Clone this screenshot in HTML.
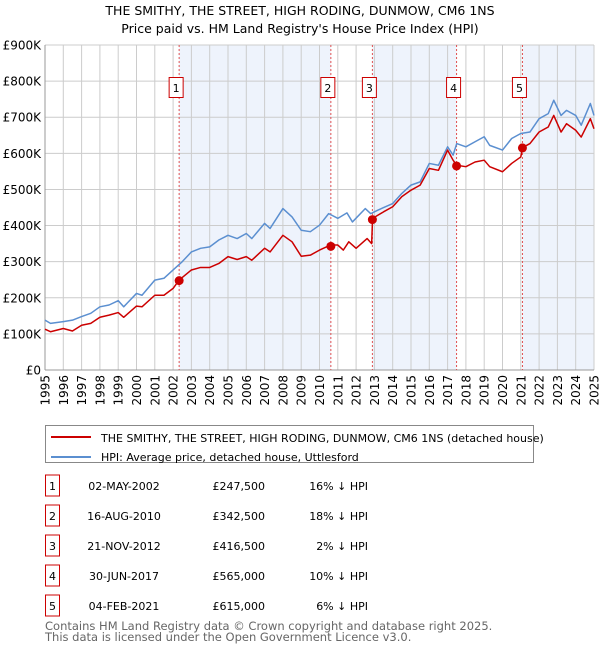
<!DOCTYPE html>
<html><head><meta charset="utf-8"><style>
body{margin:0;width:600px;height:650px;background:#fff;font-family:"Liberation Sans","DejaVu Sans",sans-serif;overflow:hidden}
</style></head><body>
<svg width="600" height="650" xmlns="http://www.w3.org/2000/svg" font-family="DejaVu Sans, Liberation Sans, sans-serif">
<text x="300" y="15" text-anchor="middle" font-size="12.5">THE SMITHY, THE STREET, HIGH RODING, DUNMOW, CM6 1NS</text>
<text x="300" y="33" text-anchor="middle" font-size="12.5">Price paid vs. HM Land Registry's House Price Index (HPI)</text>
<g id="plot"></g>
<g>
<rect x="45.5" y="425.5" width="488" height="37" fill="#fff" stroke="#888"/>
<line x1="51" y1="437" x2="91" y2="437" stroke="#cc0000" stroke-width="2"/>
<text x="101" y="442" font-size="11">THE SMITHY, THE STREET, HIGH RODING, DUNMOW, CM6 1NS (detached house)</text>
<line x1="51" y1="457" x2="91" y2="457" stroke="#5b8fd0" stroke-width="2"/>
<text x="101" y="461" font-size="11">HPI: Average price, detached house, Uttlesford</text>
</g>
<g id="table" font-size="11"></g>
<text x="45" y="630" font-size="11.5" fill="#666">Contains HM Land Registry data © Crown copyright and database right 2025.</text>
<text x="45" y="641" font-size="11.5" fill="#666">This data is licensed under the Open Government Licence v3.0.</text>
</svg>
<script>
const hpiYears=[1995,1995.3,1996,1996.5,1997,1997.5,1998,1998.5,1999,1999.3,2000,2000.3,2001,2001.5,2002,2002.5,2003,2003.5,2004,2004.5,2005,2005.5,2006,2006.3,2007,2007.3,2008,2008.5,2009,2009.5,2010,2010.5,2011,2011.5,2011.8,2012.5,2012.8,2013.2,2014,2014.5,2015,2015.5,2016,2016.5,2017,2017.3,2017.5,2018,2018.5,2019,2019.3,2020,2020.5,2021,2021.5,2022,2022.5,2022.8,2023.2,2023.5,2024,2024.3,2024.8,2025];
const hpiValues=[138,129,134,138,148,157,175,180,192,175,212,207,249,254,277,300,327,337,341,360,373,364,378,364,406,392,447,424,387,383,401,433,420,435,410,447,433,443,461,489,512,521,572,567,618,595,627,618,632,646,622,609,641,655,659,696,710,747,705,719,705,678,738,705];
const propYears=[1995,1995.3,1996,1996.5,1997,1997.5,1998,1998.5,1999,1999.3,2000,2000.3,2001,2001.5,2002,2002.33,2003,2003.5,2004,2004.5,2005,2005.5,2006,2006.3,2007,2007.3,2008,2008.5,2009,2009.5,2010,2010.6,2011,2011.3,2011.6,2012,2012.6,2012.85,2012.9,2013.5,2014,2014.5,2015,2015.5,2016,2016.5,2017,2017.3,2017.5,2018,2018.5,2019,2019.3,2020,2020.5,2021,2021.1,2021.5,2022,2022.5,2022.8,2023.2,2023.5,2024,2024.3,2024.8,2025];
const propValues=[113,106,115,108,124,129,146,152,159,146,177,175,207,207,226,249,277,284,284,295,314,306,314,304,337,327,373,355,315,318,332,346,346,332,355,337,364,350,420,438,452,480,498,512,558,553,609,581,567,563,576,581,563,549,572,590,616,627,659,673,705,659,682,664,645,696,668];
const saleLabels=["1","2","3","4","5"];
const saleDates=[2002.33,2010.62,2012.89,2017.49,2021.09];
const saleDateText=["02-MAY-2002","16-AUG-2010","21-NOV-2012","30-JUN-2017","04-FEB-2021"];
const salePrices=[247.5,342.5,416.5,565,615];
const salePriceText=["£247,500","£342,500","£416,500","£565,000","£615,000"];
const salePct=["16% ↓ HPI","18% ↓ HPI","2% ↓ HPI","10% ↓ HPI","6% ↓ HPI"];
const yTicks=[0,100,200,300,400,500,600,700,800,900];
const yTickLabels=["£0","£100K","£200K","£300K","£400K","£500K","£600K","£700K","£800K","£900K"];
const xTicks=[];for(let y=1995;y<=2025;y++)xTicks.push(y);

const NS="http://www.w3.org/2000/svg";
const L=45,R=594,T=45,B=370;
const xs=v=>L+(v-1995)/30*(R-L);
const ys=v=>B-v/900*(B-T);
const plot=document.getElementById('plot');
function mk(tag,attrs,parent){const e=document.createElementNS(NS,tag);for(const k in attrs)e.setAttribute(k,attrs[k]);(parent||plot).appendChild(e);return e;}
const shadeEnds=[[0,1],[2,3],[4,null]];
shadeEnds.forEach(([a,b])=>{const x1=xs(saleDates[a]),x2=b===null?R:xs(saleDates[b]);
const r=mk('rect',{x:x1,y:T,width:x2-x1,height:B-T,fill:'#eef3fc'});

});
yTicks.forEach((v,i)=>{const g=mk('line',{x1:L,x2:R,y1:ys(v),y2:ys(v),stroke:'#cccccc','stroke-width':1});


const t=mk('text',{x:L-4,y:ys(v)+4.5,'text-anchor':'end','font-size':12});t.textContent=yTickLabels[i];

});
xTicks.forEach(v=>{const g=mk('line',{x1:xs(v),x2:xs(v),y1:T,y2:B,stroke:'#cccccc','stroke-width':1});


const t=mk('text',{x:0,y:0,'text-anchor':'end','font-size':12,transform:`translate(${xs(v)+4.5},${B+5}) rotate(-90)`});t.textContent=v;

});
mk('line',{x1:L,x2:L,y1:T,y2:B,stroke:'#999'});
mk('line',{x1:L,x2:R,y1:B,y2:B,stroke:'#999'});
saleDates.forEach((d,i)=>{const l=mk('line',{x1:xs(d),x2:xs(d),y1:T,y2:B,stroke:'#e05050','stroke-dasharray':'2,2','stroke-width':1});


const bx=mk('rect',{x:xs(d)-10,y:77.5,width:14,height:20,fill:'#fff',stroke:'#cc0000'});


const t=mk('text',{x:xs(d)-3,y:92,'text-anchor':'middle','font-size':11});t.textContent=saleLabels[i];});
function line(xv,yv,color,name){const p=mk('polyline',{points:xv.map((x,i)=>xs(x)+','+ys(yv[i])).join(' '),fill:'none',stroke:color,'stroke-width':1.5,'stroke-linejoin':'round'});

}
line(hpiYears,hpiValues,'#5b8fd0','hpi-line');
line(propYears,propValues,'#cc0000','property-line');
saleDates.forEach((d,i)=>{const c=mk('circle',{cx:xs(d),cy:ys(salePrices[i]),r:4.5,fill:'#cc0000'});

});
const tb=document.getElementById('table');
saleLabels.forEach((s,i)=>{const cy=486+i*30;
const r=mk('rect',{x:45.5,y:cy-11,width:14,height:21,fill:'#fff',stroke:'#cc0000'},tb);


const a=mk('text',{x:52.5,y:cy+4,'text-anchor':'middle'},tb);a.textContent=s;
const b=mk('text',{x:124,y:cy+4,'text-anchor':'middle'},tb);b.textContent=saleDateText[i];


const c=mk('text',{x:265,y:cy+4,'text-anchor':'end'},tb);c.textContent=salePriceText[i];


const d=mk('text',{x:368,y:cy+4,'text-anchor':'end'},tb);d.textContent=salePct[i];

});
</script>
</body></html>
